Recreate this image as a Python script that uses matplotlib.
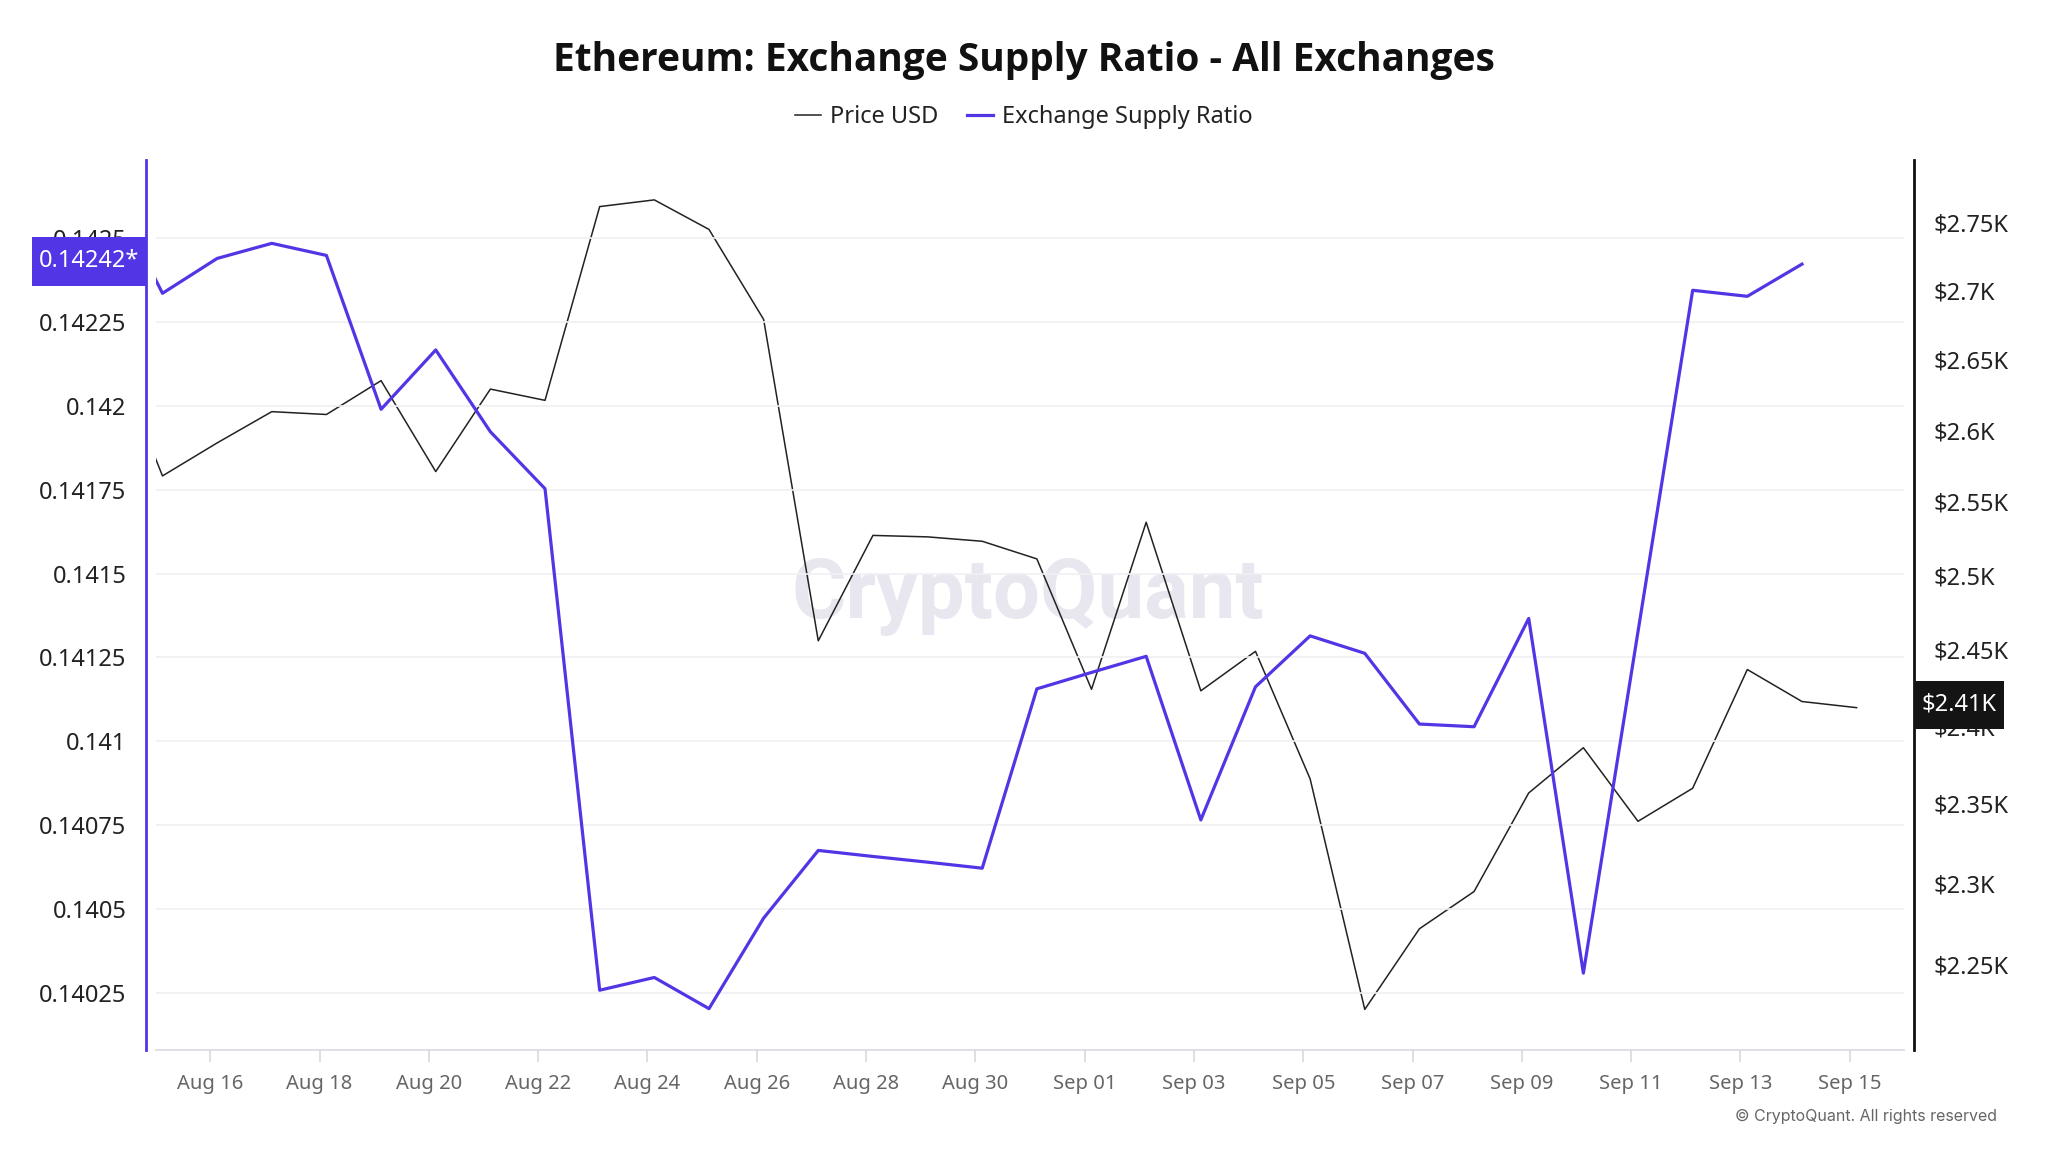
import matplotlib.pyplot as plt
import matplotlib.dates as mdates
import matplotlib.ticker as mticker
from matplotlib.path import Path
import numpy as np
import pandas as pd

# daily points, Aug 14 (clipped at left edge) .. Sep 15 2024
dates = pd.date_range("2024-08-14", "2024-09-15", freq="D")

price_usd = [
    2665, 2568, 2591, 2613, 2611, 2635, 2571, 2629, 2621, 2762,
    2767, 2745, 2679, 2456, 2527, 2526, 2523, 2511, 2424, 2536,
    2423, 2449, 2366, 2223, 2272, 2295, 2357, 2386, 2339, 2360,
    2437, 2416, 2412,
]

# exchange supply ratio stops one day earlier (Sep 14)
supply_ratio = [
    0.14266, 0.142336, 0.14244, 0.142485, 0.142449, 0.14199, 0.142167, 0.141923, 0.141753, 0.140257,
    0.140295, 0.140202, 0.140472, 0.140674, 0.140656, 0.140639, 0.140621, 0.141156, 0.141205, 0.141253,
    0.140765, 0.141162, 0.141314, 0.141262, 0.141051, 0.141043, 0.141366, 0.140308, 0.141327, 0.142345,
    0.142327, 0.142423,
]

ratio_ticks = [0.14025, 0.1405, 0.14075, 0.141, 0.14125, 0.1415, 0.14175, 0.142, 0.14225, 0.1425]
price_ticks = [2250, 2300, 2350, 2400, 2450, 2500, 2550, 2600, 2650, 2700, 2750]
date_ticks = pd.date_range("2024-08-16", "2024-09-15", freq="2D")

PURPLE = "#5236e6"
plt.rcParams["font.family"] = ["Noto Sans", "DejaVu Sans"]


def tag_box(x0, y0, width, height, mutation_size, padx=0.33, pady=0.52):
    # rectangle with separate horizontal / vertical padding
    px, py = padx * mutation_size, pady * mutation_size
    return Path([(x0 - px, y0 - py), (x0 + width + px, y0 - py), (x0 + width + px, y0 + height + py),
                 (x0 - px, y0 + height + py), (x0 - px, y0 - py)], closed=True)


fig = plt.figure(figsize=(20.48, 11.52), dpi=100)
ax = fig.add_axes([0.0760, 0.0885, 0.8539, 0.7726])
ax2 = ax.twinx()
ax.set_zorder(2)
ax2.set_zorder(1)
ax.patch.set_visible(False)
ax2.patch.set_visible(False)

# data sits a few hours after midnight in the source chart
x = dates + pd.Timedelta(hours=3)

ax2.plot(x, price_usd, color="#222222", lw=1.1, label="Price USD")
ax.plot(x[:len(supply_ratio)], supply_ratio, color=PURPLE, lw=2.3, label="Exchange Supply Ratio")

ax.set_xlim(pd.Timestamp("2024-08-15"), pd.Timestamp("2024-09-16"))
ax.set_ylim(0.1400785, 0.1427336)
ax2.set_yscale("log")
ax2.set_ylim(2198.7, 2797)

# spines
for s in ["top", "right"]:
    ax.spines[s].set_visible(False)
for s in ["top", "left", "bottom"]:
    ax2.spines[s].set_visible(False)
ax.spines["left"].set_position(("outward", 7))
ax.spines["left"].set_color(PURPLE)
ax.spines["left"].set_linewidth(2)
ax2.spines["right"].set_position(("outward", 7))
ax2.spines["right"].set_color("#111111")
ax2.spines["right"].set_linewidth(2)
ax.spines["bottom"].set_color("#dcdce6")
ax.spines["bottom"].set_linewidth(1.3)

# x axis
ax.set_xticks(date_ticks)
ax.xaxis.set_major_formatter(mdates.DateFormatter("%b %d"))
ax.tick_params(axis="x", length=8.5, width=1.2, color="#d8d8e0", labelcolor="#666666",
               labelsize=14.5, pad=9)

# left axis
ax.set_yticks(ratio_ticks)
ax.yaxis.set_major_formatter(mticker.FuncFormatter(lambda v, p: f"{v:.5f}".rstrip("0")))
ax.tick_params(axis="y", length=0, labelsize=17, labelcolor="#222222", pad=14)
ax.yaxis.grid(True, color="#f0f0f4", lw=1.2)

# right axis (log)
ax2.yaxis.set_major_locator(mticker.FixedLocator(price_ticks))
ax2.yaxis.set_minor_locator(mticker.NullLocator())
ax2.yaxis.set_major_formatter(mticker.FuncFormatter(lambda v, p: f"${v / 1000:g}K"))
ax2.tick_params(axis="y", which="both", length=0, labelsize=17, labelcolor="#222222", pad=14)

# last value tags
ax.annotate(f"{supply_ratio[-1]:.5f}*", xy=(0, supply_ratio[-1]), xycoords=("axes fraction", "data"),
            xytext=(-11.5, 2), textcoords="offset points", ha="right", va="center",
            fontsize=17, color="white",
            bbox=dict(boxstyle=tag_box, fc=PURPLE, ec="none"))
ax2.annotate(f"${price_usd[-1] / 1000:.2f}K", xy=(1, price_usd[-1]), xycoords=("axes fraction", "data"),
             xytext=(12.3, 2), textcoords="offset points", ha="left", va="center",
             fontsize=17, color="white",
             bbox=dict(boxstyle=tag_box, fc="#141414", ec="none"))

fig.text(0.5, 1 - 61 / 1152, "Ethereum: Exchange Supply Ratio - All Exchanges", ha="center", va="center",
         fontsize=28, fontweight="bold", family="Open Sans", color="#111111")

h1, l1 = ax2.get_legend_handles_labels()
h2, l2 = ax.get_legend_handles_labels()
fig.legend(h1 + h2, l1 + l2, loc="center", bbox_to_anchor=(0.5, 1 - 117 / 1152), ncol=2,
           frameon=False, fontsize=17, handlelength=1.1, handletextpad=0.4, columnspacing=1.2,
           labelcolor="#222222")

fig.text(0.502, 0.482, "CryptoQuant", ha="center", va="center", fontsize=60, fontweight="bold",
         family="Roboto", color="#e8e7ef", zorder=0.5)
fig.text(0.975, 0.031, "© CryptoQuant. All rights reserved", ha="right", va="center",
         fontsize=11.5, family="Inter", color="#666666")

fig.savefig("out.png", dpi=100)
